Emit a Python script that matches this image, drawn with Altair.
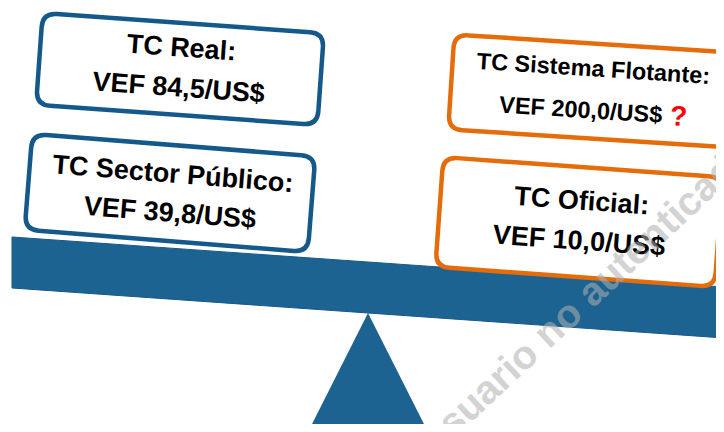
import math
import altair as alt
import pandas as pd

# ---------------- data ----------------
rate_names = ["TC Real:", "TC Sector Público:", "TC Sistema Flotante:", "TC Oficial:"]
rate_values = [84.5, 39.8, 200.0, 10.0]
currency = "VEF"
rate_unit = "/US$"
rate_flag = ["", "", "?", ""]
watermark_text = "usuario no autenticado"

# ---------------- layout (pixel space of the 724x432 picture) ----------------
X0, Y0 = 8, 8
W, H = 708, 416

beam_x = [12, 724]
beam_top = [237, 287]
beam_bottom = [288, 338]

tri_x = [308, 368, 428]
tri_top = [432, 313, 432]
tri_bottom = [432, 432, 432]

box_cx = [180, 170, 592, 579]
box_cy = [69, 193, 91, 222]
box_w = [282, 284, 282, 280]
box_h = [92, 96, 95, 110]
box_angle = [4.1, 4.5, 3.7, 4.1]
box_color = ["#15598b", "#15598b", "#e46c0a", "#e46c0a"]
font_size = [27, 27, 23.5, 27]
line_along = [(0, 0), (1.5, 1.5), (0, -10), (1.3, 1.3)]
line_perp = [(-20.5, 19.5), (-18.5, 20.5), (-21.6, 20.4), (-20.5, 19.5)]
flag_along, flag_perp, flag_size = 88, 21, 28

FONT = "Liberation Sans, Arial, sans-serif"


def rounded_path(w, h, r):
    hh = h / w
    rr = 2 * r / w
    f = lambda v: f"{v:.4f}"
    return (
        f"M{f(-1 + rr)},{f(-hh)} L{f(1 - rr)},{f(-hh)} Q1,{f(-hh)} 1,{f(-hh + rr)} "
        f"L1,{f(hh - rr)} Q1,{f(hh)} {f(1 - rr)},{f(hh)} "
        f"L{f(-1 + rr)},{f(hh)} Q-1,{f(hh)} -1,{f(hh - rr)} "
        f"L-1,{f(-hh + rr)} Q-1,{f(-hh)} {f(-1 + rr)},{f(-hh)} Z"
    )


def place(i, a, p):
    t = math.radians(box_angle[i])
    return (box_cx[i] + a * math.cos(t) - p * math.sin(t),
            box_cy[i] + a * math.sin(t) + p * math.cos(t))


beam_df = pd.DataFrame({"x": beam_x, "top": beam_top, "bottom": beam_bottom})
tri_df = pd.DataFrame({"x": tri_x, "top": tri_top, "bottom": tri_bottom})

box_df = pd.DataFrame({
    "x": box_cx,
    "y": box_cy,
    "path": [rounded_path(w, h, 14) for w, h in zip(box_w, box_h)],
    "size": [w * w for w in box_w],
    "angle": box_angle,
    "col": box_color,
})

rows = []
for i, name in enumerate(rate_names):
    value_txt = f"{currency} {rate_values[i]:.1f}".replace(".", ",") + rate_unit
    for k, txt in enumerate([name, value_txt]):
        x, y = place(i, line_along[i][k], line_perp[i][k])
        rows.append({"x": x, "y": y, "t": txt, "angle": box_angle[i],
                     "fs": font_size[i], "col": "#000000"})
    if rate_flag[i]:
        x, y = place(i, flag_along, flag_perp)
        rows.append({"x": x, "y": y, "t": rate_flag[i], "angle": box_angle[i],
                     "fs": flag_size, "col": "#ff0000"})
text_df = pd.DataFrame(rows)

xs = alt.Scale(domain=[X0, X0 + W], nice=False, zero=False)
ys = alt.Scale(domain=[Y0, Y0 + H], nice=False, zero=False, reverse=True)

tri = alt.Chart(tri_df).mark_area(color="#1d6391", opacity=1).encode(
    x=alt.X("x:Q", scale=xs, axis=None),
    y=alt.Y("top:Q", scale=ys, axis=None),
    y2="bottom:Q",
)

beam = alt.Chart(beam_df).mark_area(color="#1d6391", stroke="#17598a",
                                    strokeWidth=1, opacity=1).encode(
    x=alt.X("x:Q", scale=xs, axis=None),
    y=alt.Y("top:Q", scale=ys, axis=None),
    y2="bottom:Q",
)

boxes = alt.Chart(box_df).mark_point(fill="white", fillOpacity=1, opacity=1,
                                     strokeWidth=4.5).encode(
    x=alt.X("x:Q", scale=xs, axis=None),
    y=alt.Y("y:Q", scale=ys, axis=None),
    shape=alt.Shape("path:N", scale=None),
    size=alt.Size("size:Q", scale=None),
    angle=alt.Angle("angle:Q", scale=None),
    stroke=alt.Stroke("col:N", scale=None),
)

texts = alt.Chart(text_df).mark_text(font=FONT, fontWeight="bold", align="center",
                                     baseline="middle").encode(
    x=alt.X("x:Q", scale=xs, axis=None),
    y=alt.Y("y:Q", scale=ys, axis=None),
    text="t:N",
    angle=alt.Angle("angle:Q", scale=None),
    size=alt.Size("fs:Q", scale=None),
    color=alt.Color("col:N", scale=None),
)

wm = alt.Chart(pd.DataFrame({"t": [watermark_text]})).mark_text(
    font=FONT, fontWeight="bold", fontSize=40, angle=317, align="center",
    baseline="middle", color="#b0b0b0", opacity=0.55,
).encode(
    x=alt.X(datum=588, scale=xs, axis=None),
    y=alt.Y(datum=297, scale=ys, axis=None),
    text="t:N",
)

chart = alt.layer(tri, beam, boxes, texts, wm).properties(
    width=W, height=H, padding=0, background="white",
    autosize=alt.AutoSizeParams(type="none"),
).configure_view(stroke=None)

chart.save("out.html", embed_options={"renderer": "svg", "actions": False})
